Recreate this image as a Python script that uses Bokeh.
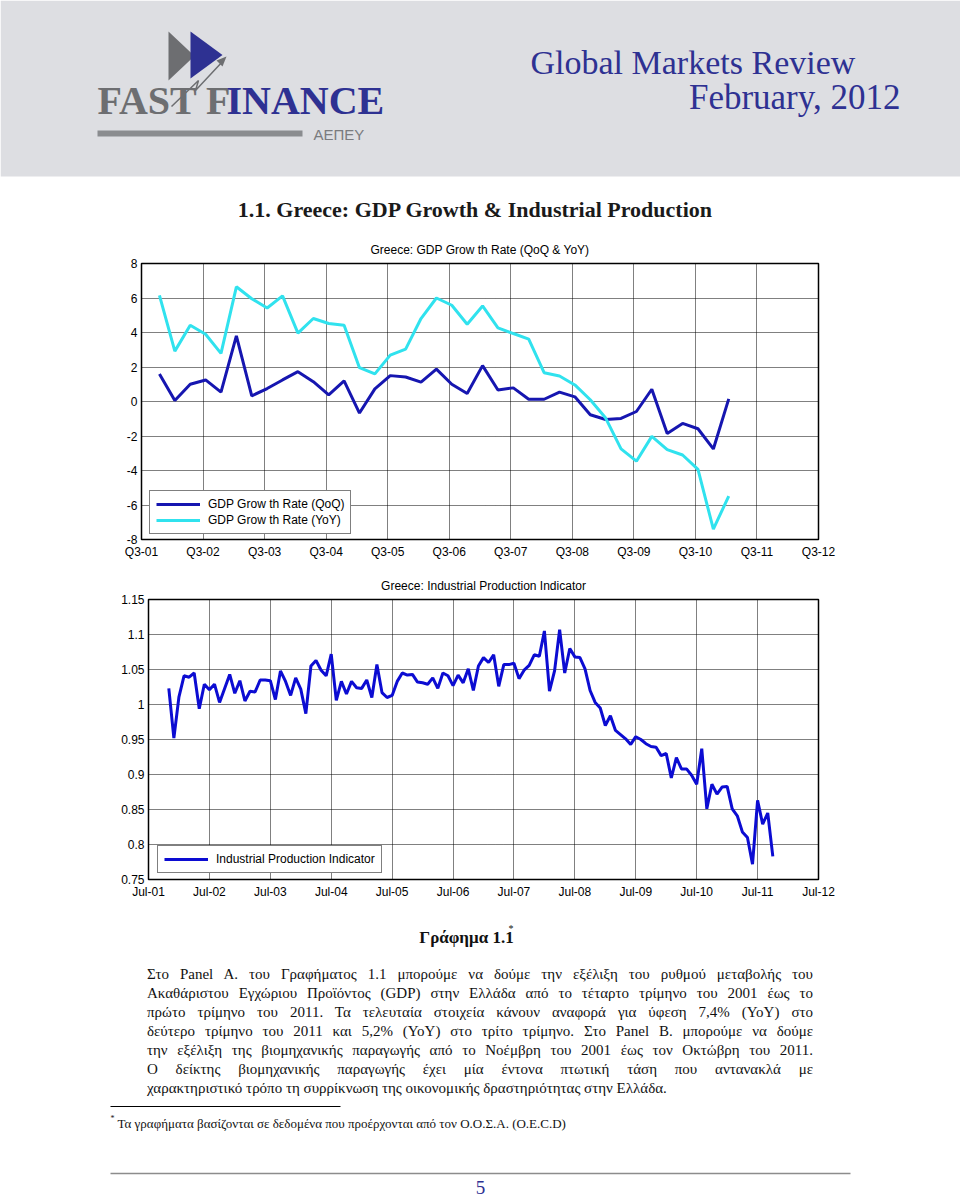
from bokeh.plotting import figure
from bokeh.models import Range1d, FixedTicker, Div
from bokeh.layouts import column
from bokeh.core.properties import value
from bokeh.embed import file_html
from bokeh.resources import INLINE

# ---------------- data ----------------
gdp_first_quarter = (2001, 4)          # Q4 2001
gdp_qoq = [1.6, 0.06, 1.0, 1.25, 0.54, 3.81, 0.33, 0.75, 1.25, 1.73,
           1.15, 0.38, 1.19, -0.67, 0.73, 1.5, 1.42, 1.12, 1.88, 1.0,
           0.46, 2.08, 0.67, 0.79, 0.13, 0.13, 0.54, 0.27, -0.77, -1.04,
           -0.98, -0.58, 0.71, -1.85, -1.27, -1.58, -2.75, 0.15]
gdp_yoy = [6.15, 2.92, 4.42, 3.9, 2.79, 6.65, 5.96, 5.42, 6.12, 3.96,
           4.81, 4.52, 4.42, 1.96, 1.6, 2.69, 3.04, 4.81, 6.0, 5.58,
           4.48, 5.54, 4.27, 3.94, 3.62, 1.67, 1.48, 0.96, 0.1, -0.96,
           -2.75, -3.46, -2.02, -2.79, -3.1, -3.94, -7.4, -5.48]
gdp_x_labels = ["Q3-01", "Q3-02", "Q3-03", "Q3-04", "Q3-05", "Q3-06",
                "Q3-07", "Q3-08", "Q3-09", "Q3-10", "Q3-11", "Q3-12"]
gdp_y_ticks = [-8, -6, -4, -2, 0, 2, 4, 6, 8]
gdp_y_labels = ["-8", "-6", "-4", "-2", "0", "2", "4", "6", "8"]

ip_first_month = (2001, 11)            # November 2001
ip_values = [1.023, 0.952, 1.011, 1.041, 1.039, 1.045, 0.994, 1.029, 1.021, 1.029,
             1.003, 1.023, 1.043, 1.016, 1.034, 1.005, 1.019, 1.018, 1.035, 1.035,
             1.034, 1.007, 1.048, 1.033, 1.013, 1.038, 1.022, 0.987, 1.055, 1.063,
             1.049, 1.041, 1.072, 1.006, 1.033, 1.015, 1.033, 1.024, 1.023, 1.035,
             1.010, 1.057, 1.017, 1.010, 1.013, 1.033, 1.045, 1.042, 1.043, 1.032,
             1.031, 1.029, 1.038, 1.023, 1.045, 1.041, 1.027, 1.042, 1.031, 1.051,
             1.020, 1.055, 1.067, 1.060, 1.071, 1.026, 1.057, 1.057, 1.059, 1.037,
             1.049, 1.056, 1.071, 1.069, 1.105, 1.019, 1.048, 1.107, 1.045, 1.080,
             1.068, 1.067, 1.051, 1.020, 1.003, 0.995, 0.970, 0.984, 0.963, 0.957,
             0.951, 0.943, 0.954, 0.950, 0.944, 0.940, 0.939, 0.927, 0.930, 0.895,
             0.924, 0.908, 0.908, 0.899, 0.886, 0.937, 0.851, 0.886, 0.872, 0.882,
             0.883, 0.851, 0.841, 0.818, 0.810, 0.772, 0.863, 0.829, 0.845, 0.783]
ip_x_labels = ["Jul-01", "Jul-02", "Jul-03", "Jul-04", "Jul-05", "Jul-06",
               "Jul-07", "Jul-08", "Jul-09", "Jul-10", "Jul-11", "Jul-12"]
ip_y_ticks = [0.75, 0.8, 0.85, 0.9, 0.95, 1.0, 1.05, 1.1, 1.15]
ip_y_labels = ["0.75", "0.8", "0.85", "0.9", "0.95", "1", "1.05", "1.1", "1.15"]

paragraph_lines = [
    "Στο Panel A. του Γραφήματος 1.1 μπορούμε να δούμε την εξέλιξη του ρυθμού μεταβολής του",
    "Ακαθάριστου Εγχώριου Προϊόντος (GDP) στην Ελλάδα από το τέταρτο τρίμηνο του 2001 έως το",
    "πρώτο τρίμηνο του 2011. Τα τελευταία στοιχεία κάνουν αναφορά για ύφεση 7,4% (YoY) στο",
    "δεύτερο τρίμηνο του 2011 και 5,2% (YoY) στο τρίτο τρίμηνο. Στο Panel B. μπορούμε να δούμε",
    "την εξέλιξη της βιομηχανικής παραγωγής από το Νοέμβρη του 2001 έως τον Οκτώβρη του 2011.",
    "Ο δείκτης βιομηχανικής παραγωγής έχει μία έντονα πτωτική τάση που αντανακλά με",
    "χαρακτηριστικό τρόπο τη συρρίκνωση της οικονομικής δραστηριότητας στην Ελλάδα.",
]

# ---------------- helpers ----------------
SANS = value("Liberation Sans")
SERIF = value("Liberation Serif")
NAVY = "#2e3192"
W = 960


def quarter_x(start, n):
    y, q = start
    out = []
    for _ in range(n):
        out.append(y + (3 * (q - 1) + 0.5) / 12.0)
        q += 1
        if q > 4:
            q, y = 1, y + 1
    return out


def month_x(start, n):
    y, m = start
    out = []
    for _ in range(n):
        out.append(y + (m - 1) / 12.0)
        m += 1
        if m > 12:
            m, y = 1, y + 1
    return out


def label_year(lbl):
    return 2000 + int(lbl.split("-")[1]) + 0.5


def deco(height, top):
    p = figure(width=W, height=height, output_backend="svg", toolbar_location=None,
               x_range=Range1d(0, W), y_range=Range1d(top + height, top),
               x_axis_type=None, y_axis_type=None, min_border=0, title=None,
               frame_align=False)
    p.outline_line_color = None
    p.background_fill_color = "white"
    p.border_fill_color = "white"
    return p


def chart(title, x_labels, y_lo, y_hi, y_ticks, y_labels, height, left, top, bottom):
    xt = [label_year(l) for l in x_labels]
    p = figure(width=W, height=height, output_backend="svg", toolbar_location=None,
               x_range=Range1d(xt[0], xt[-1]), y_range=Range1d(y_lo, y_hi),
               min_border_left=left, min_border_right=142,
               min_border_top=top, min_border_bottom=bottom, frame_align=False)
    p.title.text = title
    p.title.align = "center"
    p.title.text_font = "Liberation Sans"
    p.title.text_font_size = "12px"
    p.title.text_font_style = "normal"
    p.title.text_color = "black"
    p.title.standoff = 14
    p.xaxis.ticker = FixedTicker(ticks=xt)
    p.xaxis.major_label_overrides = dict(zip(xt, x_labels))
    p.yaxis.ticker = FixedTicker(ticks=y_ticks)
    p.yaxis.major_label_overrides = dict(zip(y_ticks, y_labels))
    for ax in p.axis:
        ax.axis_line_color = None
        ax.major_tick_line_color = None
        ax.minor_tick_line_color = None
        ax.major_tick_out = 0
        ax.major_tick_in = 0
        ax.minor_tick_out = 0
        ax.minor_tick_in = 0
        ax.major_label_text_font = "Liberation Sans"
        ax.major_label_text_font_size = "12px"
        ax.major_label_text_color = "black"
    p.xaxis.major_label_standoff = 5
    p.yaxis.major_label_standoff = 4
    p.grid.grid_line_color = "black"
    p.grid.grid_line_dash = "1 1"
    p.grid.grid_line_width = 1
    p.grid.grid_line_alpha = 1
    p.outline_line_color = "black"
    p.outline_line_width = 1.5
    p.outline_line_alpha = 1
    p.background_fill_color = "white"
    p.border_fill_color = "white"
    return p


def style_legend(p, loc):
    lg = p.legend[0]
    lg.location = loc
    lg.border_line_color = "black"
    lg.border_line_width = 1.2
    lg.background_fill_alpha = 1
    lg.label_text_font = "Liberation Sans"
    lg.label_text_font_size = "12px"
    lg.label_text_color = "black"
    lg.glyph_width = 44
    lg.glyph_height = 12
    lg.label_height = 12
    lg.label_standoff = 8
    lg.padding = 6
    lg.spacing = 2
    lg.margin = 0


# ---------------- header (page y 0 .. 233) ----------------
hdr = deco(233, 0)
hdr.quad(left=[0], right=[W], top=[0], bottom=[176], fill_color="#dddee2", line_color=None)
hdr.patches(xs=[[168, 168, 194], [190, 190, 222]], ys=[[31, 80, 55.5], [31, 78, 54.5]],
            fill_color=["#6d6e71", "#2e3192"], line_color=None)
hdr.line(x=[171, 198, 195, 223], y=[106, 80, 90, 60], line_color="#6d6e71", line_width=1.5)
hdr.patches(xs=[[226, 216, 222]], ys=[[56, 60, 66]], fill_color="#6d6e71", line_color=None)
hdr.text(x=[97], y=[100], text=["FAST F"], text_font=SERIF, text_font_style="bold",
         text_font_size="40px", text_color="#6d6e71", text_baseline="middle")
hdr.text(x=[226], y=[100], text=["INANCE"], text_font=SERIF, text_font_style="bold",
         text_font_size="40px", text_color=NAVY, text_baseline="middle")
hdr.quad(left=[97], right=[302], top=[130], bottom=[136], fill_color="#8a8c8f", line_color=None)
hdr.text(x=[313], y=[134], text=["ΑΕΠΕΥ"], text_font=SANS, text_font_size="15px",
         text_color="#7a7b7e", text_baseline="middle")
hdr.text(x=[530], y=[62], text=["Global Markets Review"], text_font=SERIF,
         text_font_size="34px", text_color=NAVY, text_baseline="middle")
hdr.text(x=[900], y=[97], text=["February, 2012"], text_font=SERIF,
         text_font_size="35px", text_color=NAVY, text_baseline="middle", text_align="right")
hdr.text(x=[475], y=[209], text=["1.1. Greece: GDP Growth & Industrial Production"],
         text_font=SERIF, text_font_style="bold", text_font_size="22px", text_color="#1a1a1a",
         text_align="center", text_baseline="middle")

# ---------------- chart 1 (page y 233 .. 565) ----------------
p1 = chart("Greece: GDP Grow th Rate (QoQ & YoY)", gdp_x_labels, -8, 8, gdp_y_ticks,
           gdp_y_labels, 332, 141, 26, 26)
gx = quarter_x(gdp_first_quarter, len(gdp_qoq))
p1.line(gx, gdp_qoq, line_color="#1616b0", line_width=3, legend_label="GDP Grow th Rate (QoQ)")
p1.line(gx, gdp_yoy, line_color="#30e2ee", line_width=3, legend_label="GDP Grow th Rate (YoY)")
style_legend(p1, (8, 5))

# ---------------- chart 2 (page y 565 .. 905) ----------------
p2 = chart("Greece: Industrial Production Indicator", ip_x_labels, 0.75, 1.15, ip_y_ticks,
           ip_y_labels, 340, 148, 34, 26)
ix = month_x(ip_first_month, len(ip_values))
p2.line(ix, ip_values, line_color="#0c0cd2", line_width=3, legend_label="Industrial Production Indicator")
style_legend(p2, (9, 6))

# ---------------- caption (page y 905 .. 961) ----------------
cap = deco(56, 905)
cap.text(x=[466], y=[937], text=["Γράφημα 1.1"], text_font=SERIF, text_font_style="bold",
         text_font_size="17px", text_color="#111", text_align="center", text_baseline="middle")
cap.text(x=[508], y=[928], text=["*"], text_font=SERIF, text_font_size="10px",
         text_color="#111", text_baseline="middle")

# ---------------- paragraph (page y 961 .. 1098) ----------------
rows = []
for i, line in enumerate(paragraph_lines):
    last = "justify" if i < len(paragraph_lines) - 1 else "left"
    rows.append('<div style="text-align:justify;text-align-last:%s;">%s</div>' % (last, line))
para_html = ('<div style="margin-left:147px;width:666px;padding-top:4px;'
             'font-family:\'Liberation Serif\';font-size:15px;line-height:19px;color:#111;">'
             + "".join(rows) + '</div>')
para = Div(text=para_html, width=W, height=137, margin=0)

# ---------------- footer (page y 1098 .. 1199) ----------------
foot = deco(101, 1098)
foot.line(x=[110, 340], y=[1106, 1106], line_color="black", line_width=1)
foot.text(x=[110], y=[1118], text=["*"], text_font=SERIF, text_font_size="8px",
          text_color="#111", text_baseline="middle")
foot.text(x=[117], y=[1123], text=["Τα γραφήματα βασίζονται σε δεδομένα που προέρχονται από τον Ο.Ο.Σ.Α. (O.E.C.D)"],
          text_font=SERIF, text_font_size="13px", text_color="#111", text_baseline="middle")
foot.line(x=[110, 850], y=[1173, 1173], line_color="#8c8c8c", line_width=1.5)
foot.text(x=[480], y=[1187], text=["5"], text_font=SERIF, text_font_size="19px",
          text_color=NAVY, text_align="center", text_baseline="middle")

page = column(hdr, p1, p2, cap, para, foot, spacing=0)
open("out.html", "w").write(file_html(page, INLINE))
